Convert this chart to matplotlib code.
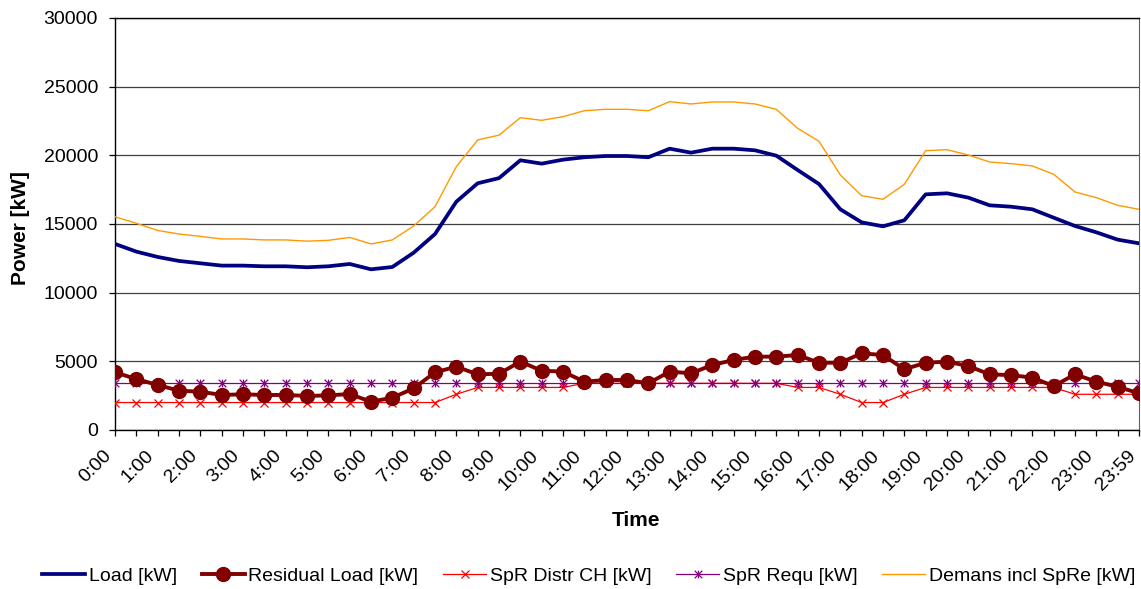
import numpy as np
import matplotlib
matplotlib.use("Agg")
import matplotlib.pyplot as plt
import matplotlib.transforms as mtransforms
from matplotlib.path import Path

plt.rcParams['font.family'] = ['Liberation Sans', 'DejaVu Sans']

# --- DATA (half-hour steps, 0:00 .. 23:59) ---
load = [13550, 12990, 12600, 12310, 12140, 11970, 11970, 11920, 11920, 11850,
        11920, 12090, 11700, 11870, 12910, 14270, 16625, 17965, 18340, 19640,
        19395, 19685, 19860, 19950, 19950, 19860, 20485, 20195, 20485, 20485,
        20365, 19975, 18930, 17910, 16070, 15120, 14830, 15270, 17160, 17235,
        16920, 16360, 16260, 16070, 15460, 14855, 14395, 13860, 13595]
residual = [4200, 3710, 3280, 2860, 2790, 2550, 2600, 2550, 2550, 2480,
            2520, 2620, 2060, 2350, 3030, 4200, 4610, 4050, 4100, 4975,
            4320, 4250, 3520, 3640, 3640, 3400, 4250, 4130, 4730, 5100,
            5340, 5340, 5460, 4900, 4900, 5580, 5460, 4420, 4900, 4975,
            4660, 4050, 4000, 3810, 3200, 4050, 3520, 3150, 2670]
spr_distr = [2000, 2000, 2000, 2000, 2000, 2000, 2000, 2000, 2000, 2000,
             2000, 2000, 2000, 2000, 2000, 2000, 2600, 3100, 3100, 3100,
             3100, 3100, 3400, 3400, 3400, 3400, 3400, 3400, 3400, 3400,
             3400, 3400, 3100, 3100, 2600, 2000, 2000, 2600, 3100, 3100,
             3100, 3100, 3100, 3100, 3100, 2600, 2600, 2600, 2600]
spr_requ = [3400] * 49
demand = [15530, 15050, 14530, 14270, 14100, 13910, 13910, 13840, 13840, 13750,
          13810, 14020, 13550, 13840, 14855, 16260, 19175, 21120, 21470, 22740,
          22550, 22815, 23250, 23350, 23350, 23250, 23910, 23740, 23885, 23885,
          23740, 23350, 21970, 21020, 18570, 17060, 16800, 17890, 20340, 20410,
          20025, 19515, 19395, 19225, 18620, 17330, 16920, 16360, 16070]
tick_labels = ['0:00', '1:00', '2:00', '3:00', '4:00', '5:00', '6:00', '7:00',
               '8:00', '9:00', '10:00', '11:00', '12:00', '13:00', '14:00',
               '15:00', '16:00', '17:00', '18:00', '19:00', '20:00', '21:00',
               '22:00', '23:00', '23:59']

# Excel-style star marker (x with a vertical bar)
star = Path([(0, -1), (0, 1), (-1, -1), (1, 1), (-1, 1), (1, -1)],
            [Path.MOVETO, Path.LINETO] * 3)

x = np.arange(len(load))

fig = plt.figure(figsize=(11.41, 5.89), dpi=100)
ax = fig.add_axes([115 / 1141, 1 - 430 / 589, 1024 / 1141, 412 / 589])

ax.plot(x, load, color='#000080', lw=2.7, label='Load [kW]', zorder=4)
ax.plot(x, residual, color='#800000', lw=2.8, marker='o', ms=10,
        label='Residual Load [kW]', zorder=5)
ax.plot(x, spr_distr, color='#FF0000', lw=0.9, marker='x', ms=5.5, mew=0.9,
        label='SpR Distr CH [kW]', zorder=3)
ax.plot(x, spr_requ, color='#800080', lw=0.9, marker=star, ms=5.5, mew=0.9,
        label='SpR Requ [kW]', zorder=3)
ax.plot(x, demand, color='#FF9900', lw=1.0, label='Demans incl SpRe [kW]', zorder=4)

ax.set_xlim(0, len(load) - 1)
ax.set_ylim(0, 30000)
ax.set_yticks(np.arange(0, 30001, 5000))
ax.yaxis.grid(True, color='#404040', lw=0.9)
ax.set_axisbelow(True)

ax.set_xticks(x, minor=True)
ax.set_xticks(x[::2])
ax.set_xticklabels(tick_labels, rotation=45, ha='right')
offset = mtransforms.ScaledTranslation(-7 / 72, -3 / 72, fig.dpi_scale_trans)
for lbl in ax.get_xticklabels():
    lbl.set_transform(lbl.get_transform() + offset)

ax.tick_params(axis='both', which='both', direction='out', length=4.3,
               width=0.9, labelsize=14, pad=8)
ax.tick_params(axis='x', which='minor', length=4.3)
for s in ['left', 'bottom', 'top']:
    ax.spines[s].set_color('black')
    ax.spines[s].set_linewidth(1.0)
ax.spines['right'].set_color('#606060')

ax.set_xlabel('Time', fontsize=15, weight='bold')
ax.xaxis.set_label_coords(0.509, -0.197)
ax.set_ylabel('Power [kW]', fontsize=15, weight='bold')
ax.yaxis.set_label_coords(-0.083, 0.49)

fig.legend(loc='center', bbox_to_anchor=(0.516, 0.022), ncol=5, frameon=False,
           fontsize=14, handlelength=2.2, handletextpad=0.2, columnspacing=1.27,
           numpoints=1)

fig.savefig('out.png', dpi=100)
